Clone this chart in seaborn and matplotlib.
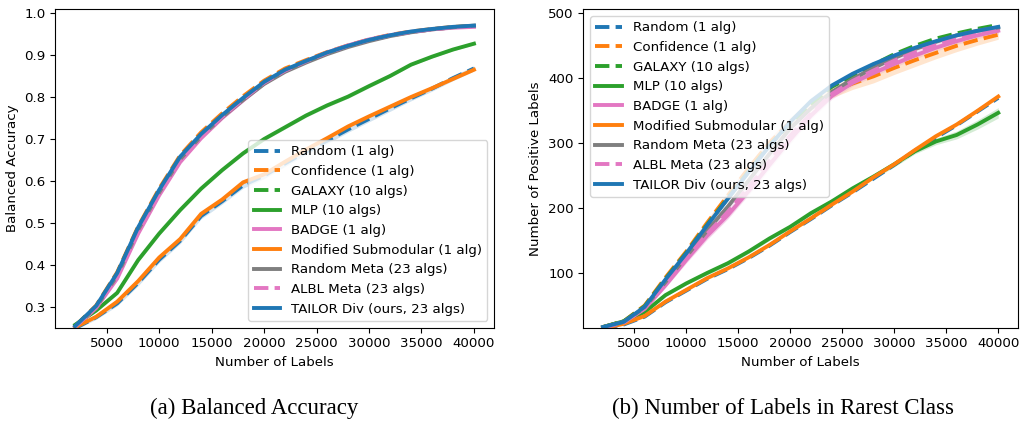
import numpy as np
import pandas as pd
import seaborn as sns
import matplotlib
matplotlib.use("Agg")
import matplotlib.pyplot as plt

# Number of labels queried (x axis shared by both panels)
n_labels = [2000, 4000, 6000, 8000, 10000, 12000, 14000, 16000, 18000, 20000,
            22000, 24000, 26000, 28000, 30000, 32000, 34000, 36000, 38000, 40000]

methods = ["Random (1 alg)", "Confidence (1 alg)", "GALAXY (10 algs)", "MLP (10 algs)",
           "BADGE (1 alg)", "Modified Submodular (1 alg)", "Random Meta (23 algs)",
           "ALBL Meta (23 algs)", "TAILOR Div (ours, 23 algs)"]

# Balanced accuracy (mean over runs)
random_acc   = [0.250, 0.276, 0.309, 0.358, 0.413, 0.458, 0.517, 0.552, 0.590, 0.613, 0.642, 0.670, 0.696, 0.723, 0.748, 0.773, 0.797, 0.820, 0.845, 0.868]
conf_acc     = [0.255, 0.304, 0.383, 0.492, 0.582, 0.661, 0.716, 0.761, 0.802, 0.839, 0.868, 0.888, 0.907, 0.923, 0.937, 0.948, 0.956, 0.962, 0.967, 0.969]
galaxy_acc   = [0.255, 0.302, 0.380, 0.489, 0.578, 0.657, 0.711, 0.756, 0.797, 0.835, 0.864, 0.885, 0.905, 0.921, 0.935, 0.946, 0.955, 0.961, 0.966, 0.969]
mlp_acc      = [0.258, 0.292, 0.334, 0.412, 0.475, 0.531, 0.582, 0.626, 0.666, 0.700, 0.728, 0.756, 0.780, 0.801, 0.826, 0.850, 0.877, 0.896, 0.913, 0.927]
badge_acc    = [0.252, 0.298, 0.368, 0.475, 0.566, 0.645, 0.702, 0.750, 0.792, 0.832, 0.862, 0.885, 0.906, 0.923, 0.937, 0.947, 0.955, 0.961, 0.965, 0.967]
modsub_acc   = [0.252, 0.277, 0.313, 0.362, 0.418, 0.462, 0.522, 0.556, 0.597, 0.616, 0.646, 0.675, 0.702, 0.730, 0.754, 0.777, 0.800, 0.821, 0.843, 0.865]
randmeta_acc = [0.254, 0.300, 0.375, 0.484, 0.573, 0.652, 0.707, 0.752, 0.793, 0.831, 0.860, 0.882, 0.902, 0.919, 0.933, 0.945, 0.954, 0.961, 0.966, 0.970]
albl_acc     = [0.253, 0.300, 0.372, 0.480, 0.570, 0.650, 0.705, 0.753, 0.795, 0.834, 0.863, 0.885, 0.905, 0.922, 0.936, 0.947, 0.955, 0.961, 0.966, 0.968]
tailor_acc   = [0.255, 0.303, 0.381, 0.490, 0.579, 0.658, 0.712, 0.757, 0.798, 0.836, 0.865, 0.886, 0.906, 0.922, 0.936, 0.947, 0.956, 0.962, 0.967, 0.970]

# Standard error of balanced accuracy
random_acc_se = [0.004, 0.005, 0.006, 0.007, 0.007, 0.007, 0.007, 0.007, 0.007, 0.007, 0.007, 0.007, 0.007, 0.007, 0.007, 0.007, 0.006, 0.006, 0.006, 0.006]
mlp_acc_se    = [0.003, 0.003, 0.004, 0.004, 0.004, 0.004, 0.004, 0.004, 0.004, 0.004, 0.004, 0.004, 0.004, 0.004, 0.004, 0.003, 0.003, 0.003, 0.003, 0.003]

# Number of positive (rarest-class) labels collected
random_pos   = [15, 21, 33, 55, 73, 91, 106, 123, 142, 163, 183, 204, 224, 245, 266, 288, 308, 327, 348, 369]
conf_pos     = [17, 26, 50, 93, 133, 177, 219, 261, 300, 332, 358, 378, 391, 402, 415, 427, 438, 449, 458, 466]
galaxy_pos   = [17, 26, 49, 91, 131, 174, 215, 256, 296, 330, 360, 386, 403, 420, 436, 449, 460, 468, 475, 481]
mlp_pos      = [17, 26, 40, 66, 84, 100, 115, 133, 153, 171, 192, 210, 230, 248, 267, 287, 302, 312, 328, 346]
badge_pos    = [16, 24, 45, 81, 120, 157, 189, 226, 266, 305, 342, 372, 392, 407, 421, 434, 446, 456, 465, 472]
modsub_pos   = [15, 22, 34, 56, 74, 92, 107, 124, 143, 164, 184, 205, 225, 247, 267, 289, 310, 328, 349, 371]
randmeta_pos = [17, 25, 47, 86, 125, 165, 202, 242, 283, 322, 353, 378, 398, 415, 430, 444, 455, 465, 472, 477]
albl_pos     = [16, 24, 46, 83, 122, 160, 194, 232, 272, 311, 345, 375, 395, 411, 426, 439, 451, 461, 468, 474]
tailor_pos   = [17, 25, 48, 90, 130, 173, 214, 255, 295, 332, 364, 388, 406, 421, 434, 446, 456, 465, 472, 478]

# Standard error of positive-label counts
conf_pos_se  = [1, 1, 2, 3, 4, 5, 6, 6, 7, 7, 8, 9, 9, 10, 10, 10, 9, 9, 8, 7]
badge_pos_se = [1, 1, 2, 3, 4, 5, 6, 6, 6, 6, 5, 5, 5, 5, 5, 5, 5, 5, 5, 5]
albl_pos_se  = [1, 1, 3, 5, 7, 9, 10, 10, 9, 8, 6, 5, 4, 4, 4, 4, 4, 4, 4, 4]
mlp_pos_se   = [1, 1, 2, 2, 2, 3, 3, 3, 3, 3, 3, 4, 4, 4, 4, 4, 5, 6, 7, 8]

acc_series = [random_acc, conf_acc, galaxy_acc, mlp_acc, badge_acc,
              modsub_acc, randmeta_acc, albl_acc, tailor_acc]
pos_series = [random_pos, conf_pos, galaxy_pos, mlp_pos, badge_pos,
              modsub_pos, randmeta_pos, albl_pos, tailor_pos]
acc_bands = {"Random (1 alg)": random_acc_se, "MLP (10 algs)": mlp_acc_se}
pos_bands = {"Confidence (1 alg)": conf_pos_se, "BADGE (1 alg)": badge_pos_se,
             "ALBL Meta (23 algs)": albl_pos_se, "MLP (10 algs)": mlp_pos_se}

tab = sns.color_palette("tab10")
colors = {
    "Random (1 alg)": tab[0], "Confidence (1 alg)": tab[1], "GALAXY (10 algs)": tab[2],
    "MLP (10 algs)": tab[2], "BADGE (1 alg)": tab[6], "Modified Submodular (1 alg)": tab[1],
    "Random Meta (23 algs)": tab[7], "ALBL Meta (23 algs)": tab[6],
    "TAILOR Div (ours, 23 algs)": tab[0],
}
dashed = {"Random (1 alg)", "Confidence (1 alg)", "GALAXY (10 algs)", "ALBL Meta (23 algs)"}

plt.rcParams.update({"font.size": 9.6, "font.family": "DejaVu Sans"})

fig = plt.figure(figsize=(10.23, 4.23), dpi=100)
W, H = 1023.0, 423.0
ax1 = fig.add_axes([55.3 / W, (H - 327.7) / H, 438.6 / W, 318.4 / H])
ax2 = fig.add_axes([583.3 / W, (H - 327.7) / H, 434.7 / W, 318.4 / H])


def draw_panel(ax, series, bands):
    for name, vals in zip(methods, series):
        df = pd.DataFrame({"labels": n_labels, "value": vals})
        if name in bands:
            lo = np.array(vals) - np.array(bands[name])
            hi = np.array(vals) + np.array(bands[name])
            ax.fill_between(n_labels, lo, hi, color=colors[name], alpha=0.2, linewidth=0)
        sns.lineplot(data=df, x="labels", y="value", ax=ax, color=colors[name],
                     linewidth=2.8, label=name)
        line = ax.get_lines()[-1]
        line.set_linestyle("--" if name in dashed else "-")
    ax.set_xlabel("Number of Labels")
    ax.set_xticks([5000, 10000, 15000, 20000, 25000, 30000, 35000, 40000])
    ax.set_xlim(100, 41900)


draw_panel(ax1, acc_series, acc_bands)
ax1.set_ylabel("Balanced Accuracy")
ax1.set_ylim(0.251, 1.0088)
ax1.set_yticks([0.3, 0.4, 0.5, 0.6, 0.7, 0.8, 0.9, 1.0])
ax1.legend(loc="lower right")

draw_panel(ax2, pos_series, pos_bands)
ax2.set_ylabel("Number of Positive Labels")
ax2.set_ylim(16, 505)
ax2.set_yticks([100, 200, 300, 400, 500])
ax2.legend(loc="upper left")

cap_font = dict(family="Liberation Serif", fontsize=16.5, ha="center", va="center")
fig.text(254 / W, 1 - 408 / H, "(a) Balanced Accuracy", **cap_font)
fig.text(783 / W, 1 - 408 / H, "(b) Number of Labels in Rarest Class", **cap_font)

fig.savefig("out.png", dpi=100)
